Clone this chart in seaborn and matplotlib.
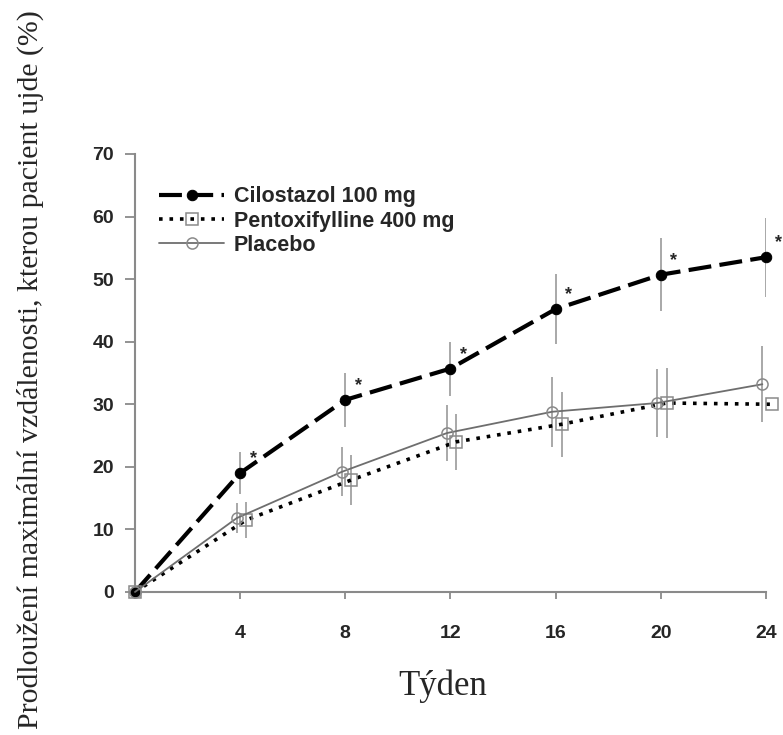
import numpy as np
import pandas as pd
import seaborn as sns
import matplotlib.pyplot as plt

# weeks and mean change (%)
weeks = [0, 4, 8, 12, 16, 20, 24]
cilostazol = [0, 19.0, 30.7, 35.7, 45.2, 50.7, 53.5]
cilostazol_err = [0, 3.4, 4.3, 4.3, 5.6, 5.8, 6.3]
pentoxifylline = [0, 11.5, 17.9, 24.0, 26.8, 30.2, 30.0]
pentoxifylline_err = [0, 2.8, 4.0, 4.5, 5.2, 5.6, 6.1]
placebo = [0, 11.8, 19.2, 25.4, 28.8, 30.2, 33.2]
placebo_err = [0, 2.4, 3.9, 4.5, 5.6, 5.5, 6.1]
labels = ["Cilostazol 100 mg", "Pentoxifylline 400 mg", "Placebo"]
x_ticks = [4, 8, 12, 16, 20, 24]
y_ticks = [0, 10, 20, 30, 40, 50, 60, 70]

sns.set_style("ticks")
plt.rcParams["font.family"] = ["Liberation Sans", "DejaVu Sans"]

fig = plt.figure(figsize=(7.83, 7.35), dpi=100)
ax = fig.add_axes([0.1724, 0.1946, 0.8056, 0.5959])

w = np.array(weeks, dtype=float)
series = [
    (cilostazol, cilostazol_err, 0.0,
     dict(color="black", linewidth=3.0, dashes=(5.5, 2.0)),
     dict(marker="o", markersize=7.5, markerfacecolor="black", markeredgecolor="black")),
    (pentoxifylline, pentoxifylline_err, 0.23,
     dict(color="black", linewidth=2.6, dashes=(1.0, 1.9)),
     dict(marker="s", markersize=8, markerfacecolor="none", markeredgecolor="#8a8a8a", markeredgewidth=1.1)),
    (placebo, placebo_err, -0.13,
     dict(color="#6e6e6e", linewidth=1.3),
     dict(marker="o", markersize=8, markerfacecolor="none", markeredgecolor="#8a8a8a", markeredgewidth=1.1)),
]

handles = []
for (vals, err, shift, lstyle, mstyle), lab in zip(series, labels):
    xs = w + shift * (w > 0)
    df = pd.DataFrame({"week": xs, "value": vals})
    ax.errorbar(xs[1:], vals[1:], yerr=err[1:], fmt="none", ecolor="#9a9a9a",
                elinewidth=1.2, capsize=0, zorder=1)
    dashes = lstyle.pop("dashes", None)
    sns.lineplot(data=df, x="week", y="value", ax=ax, zorder=3, clip_on=False,
                 **lstyle, **mstyle)
    line = ax.lines[-1]
    if dashes is not None:
        line.set_dashes(dashes)
    line.set_label(lab)
    handles.append(line)

# significance stars beside cilostazol points
for wk, v in zip(weeks[1:], cilostazol[1:]):
    ax.text(wk + 0.5, v + 2.3, "*", fontsize=13, fontweight="bold",
            ha="center", va="center", clip_on=False)

ax.set_xlim(0, 24)
ax.set_ylim(0, 70)
ax.set_xticks([0] + x_ticks)
ax.set_xticklabels([""] + [str(t) for t in x_ticks])
ax.set_yticks(y_ticks)
ax.set_yticklabels([str(t) for t in y_ticks])
for lab in ax.get_xticklabels() + ax.get_yticklabels():
    lab.set_fontweight("bold")
    lab.set_fontsize(14)
ax.tick_params(axis="x", length=5, width=1.3, color="#8a8a8a", pad=19)
ax.tick_params(axis="y", length=7, width=1.3, color="#8a8a8a", pad=8)
sns.despine(ax=ax)
for s in ["left", "bottom"]:
    ax.spines[s].set_color("#8a8a8a")
    ax.spines[s].set_linewidth(1.5)

ax.set_xlabel("")
ax.set_ylabel("")
fig.text(0.565, 0.054, "Týden", family=["Liberation Serif", "DejaVu Serif"],
         fontsize=25, ha="center", va="baseline")
fig.text(0.039, 0.497, "Prodloužení maximální vzdálenosti, kterou pacient ujde (%)",
         family=["Liberation Serif", "DejaVu Serif"], fontsize=21.5,
         rotation=90, ha="center", va="center")

leg = ax.legend(handles=handles, loc="upper left", bbox_to_anchor=(0.008, 0.97),
                frameon=False, handlelength=3.0, handletextpad=0.45,
                labelspacing=0.15, prop={"weight": "bold", "size": 15.5})

fig.savefig("out.png", dpi=100)
